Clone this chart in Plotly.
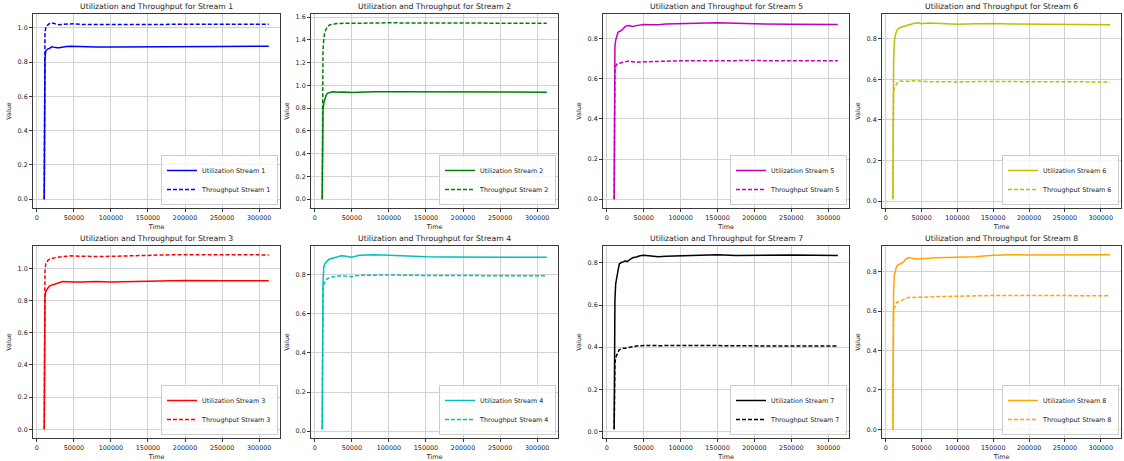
import plotly.graph_objects as go

# ---------------- data ----------------
TIME = [10000, 10500, 11000, 12000, 13000, 15000, 17000, 20000, 22500, 25000,
        27500, 30000, 32500, 35000, 40000, 45000, 50000, 60000, 70000, 80000,
        100000, 125000, 150000, 175000, 200000, 250000, 313000]

util_s1 = [0.00, 0.55, 0.82, 0.865, 0.87, 0.878, 0.88, 0.89, 0.888, 0.885, 0.884, 0.885, 0.887, 0.89,
           0.892, 0.893, 0.892, 0.889, 0.89, 0.889, 0.889, 0.89, 0.891, 0.89, 0.891, 0.892, 0.893]
thr_s1 = [0.00, 0.65, 0.96, 1.005, 1.012, 1.018, 1.025, 1.03, 1.027, 1.022, 1.02, 1.019, 1.02, 1.022,
          1.025, 1.026, 1.025, 1.02, 1.02, 1.019, 1.018, 1.019, 1.02, 1.02, 1.021, 1.021, 1.022]

util_s2 = [0.00, 0.50, 0.78, 0.84, 0.87, 0.91, 0.93, 0.94, 0.942, 0.943, 0.94, 0.941, 0.94, 0.942,
           0.943, 0.94, 0.938, 0.941, 0.942, 0.943, 0.943, 0.943, 0.942, 0.942, 0.941, 0.94, 0.94]
thr_s2 = [0.00, 0.85, 1.30, 1.40, 1.45, 1.49, 1.515, 1.53, 1.535, 1.537, 1.54, 1.542, 1.543, 1.545,
          1.548, 1.546, 1.545, 1.547, 1.548, 1.548, 1.549, 1.548, 1.547, 1.547, 1.546, 1.545, 1.545]

util_s3 = [0.00, 0.60, 0.82, 0.855, 0.865, 0.878, 0.89, 0.897, 0.9, 0.903, 0.908, 0.912, 0.916, 0.918,
           0.917, 0.915, 0.915, 0.915, 0.916, 0.918, 0.915, 0.918, 0.922, 0.924, 0.925, 0.924, 0.924]
thr_s3 = [0.00, 0.75, 0.98, 1.03, 1.04, 1.05, 1.057, 1.062, 1.065, 1.067, 1.069, 1.07, 1.073, 1.076,
          1.077, 1.078, 1.077, 1.075, 1.073, 1.074, 1.075, 1.079, 1.082, 1.084, 1.085, 1.085, 1.084]

util_s4 = [0.01, 0.55, 0.74, 0.835, 0.85, 0.86, 0.87, 0.878, 0.882, 0.885, 0.886, 0.888, 0.892, 0.895,
           0.894, 0.889, 0.887, 0.897, 0.898, 0.9, 0.897, 0.893, 0.89, 0.889, 0.889, 0.888, 0.887]
thr_s4 = [0.01, 0.50, 0.70, 0.75, 0.76, 0.77, 0.778, 0.785, 0.787, 0.788, 0.79, 0.791, 0.793, 0.793,
          0.791, 0.789, 0.788, 0.795, 0.796, 0.797, 0.797, 0.795, 0.794, 0.794, 0.794, 0.793, 0.793]

util_s5 = [0.00, 0.62, 0.76, 0.79, 0.80, 0.83, 0.835, 0.84, 0.85, 0.86, 0.864, 0.865, 0.862, 0.86,
           0.864, 0.868, 0.87, 0.869, 0.868, 0.872, 0.874, 0.876, 0.878, 0.876, 0.873, 0.871, 0.87]
thr_s5 = [0.00, 0.55, 0.63, 0.66, 0.67, 0.675, 0.677, 0.68, 0.684, 0.686, 0.688, 0.688, 0.685, 0.683,
          0.682, 0.683, 0.684, 0.685, 0.685, 0.687, 0.689, 0.69, 0.691, 0.69, 0.69, 0.689, 0.689]

util_s6 = [0.01, 0.52, 0.68, 0.78, 0.81, 0.835, 0.848, 0.855, 0.858, 0.86, 0.862, 0.866, 0.868, 0.872,
           0.876, 0.878, 0.874, 0.877, 0.875, 0.872, 0.871, 0.873, 0.875, 0.872, 0.871, 0.869, 0.869]
thr_s6 = [0.01, 0.50, 0.54, 0.555, 0.565, 0.576, 0.585, 0.591, 0.59, 0.589, 0.59, 0.59, 0.591, 0.592,
          0.592, 0.593, 0.589, 0.588, 0.588, 0.587, 0.587, 0.589, 0.59, 0.589, 0.588, 0.587, 0.587]

util_s7 = [0.01, 0.45, 0.62, 0.70, 0.73, 0.76, 0.795, 0.803, 0.805, 0.81, 0.806, 0.812, 0.82, 0.825,
           0.828, 0.834, 0.836, 0.832, 0.829, 0.832, 0.834, 0.835, 0.839, 0.835, 0.836, 0.838, 0.835]
thr_s7 = [0.01, 0.22, 0.32, 0.35, 0.36, 0.375, 0.388, 0.394, 0.395, 0.395, 0.397, 0.399, 0.401, 0.403,
          0.405, 0.407, 0.408, 0.408, 0.407, 0.408, 0.408, 0.408, 0.407, 0.407, 0.406, 0.405, 0.405]

util_s8 = [0.00, 0.55, 0.70, 0.78, 0.80, 0.825, 0.833, 0.838, 0.842, 0.85, 0.863, 0.868, 0.872, 0.87,
           0.866, 0.866, 0.866, 0.868, 0.871, 0.872, 0.875, 0.876, 0.883, 0.886, 0.885, 0.885, 0.886]
thr_s8 = [0.00, 0.50, 0.60, 0.615, 0.627, 0.642, 0.646, 0.651, 0.655, 0.66, 0.665, 0.668, 0.67, 0.669,
          0.669, 0.67, 0.67, 0.671, 0.673, 0.674, 0.675, 0.676, 0.679, 0.679, 0.679, 0.678, 0.678]

# panel order: row 1 -> streams 1, 2, 5, 6 ; row 2 -> streams 3, 4, 7, 8
panel_streams = [1, 2, 5, 6, 3, 4, 7, 8]
panel_colors = ["#0000ff", "#008000", "#bf00bf", "#bfbf00",
                "#ff0000", "#00bfbf", "#000000", "#ffa500"]
series = {1: (util_s1, thr_s1), 2: (util_s2, thr_s2), 3: (util_s3, thr_s3), 4: (util_s4, thr_s4),
          5: (util_s5, thr_s5), 6: (util_s6, thr_s6), 7: (util_s7, thr_s7), 8: (util_s8, thr_s8)}

# ---------------- layout ----------------
W, H = 1124, 461
col_px = [(33, 280), (311, 558), (603, 849), (882, 1121)]
row_px = [(14, 208), (246, 438)]
FONT = "DejaVu Sans"
TXT = "#1a1a1a"

fig = go.Figure()
layout = dict(width=W, height=H, margin=dict(l=0, r=0, t=0, b=0),
              paper_bgcolor="white", plot_bgcolor="white",
              font=dict(family=FONT, size=6.4, color=TXT), showlegend=True)
annotations = []

xmin, xmax = min(TIME), max(TIME)
xpad = 0.05 * (xmax - xmin)

for i, s in enumerate(panel_streams):
    r, c = divmod(i, 4)
    x0, x1 = col_px[c]
    y0, y1 = row_px[r]
    xd = [x0 / W, x1 / W]
    yd = [1 - y1 / H, 1 - y0 / H]
    k = "" if i == 0 else str(i + 1)
    util, thr = series[s]
    color = panel_colors[i]
    lg = "legend" + k
    fig.add_trace(go.Scatter(x=TIME, y=util, mode="lines", name=f"Utilization Stream {s}",
                             line=dict(color=color, width=1.5), xaxis="x" + k, yaxis="y" + k,
                             legend=lg))
    fig.add_trace(go.Scatter(x=TIME, y=thr, mode="lines", name=f"Throughput Stream {s}",
                             line=dict(color=color, width=1.5, dash="4px,2px"),
                             xaxis="x" + k, yaxis="y" + k, legend=lg))
    lo = min(min(util), min(thr))
    hi = max(max(util), max(thr))
    ypad = 0.05 * (hi - lo)
    axcommon = dict(showline=True, mirror=True, linecolor="#3a3a3a", linewidth=1,
                    showgrid=True, gridcolor="#d2d2d2", gridwidth=1, zeroline=False,
                    ticks="outside", ticklen=3, tickwidth=1, tickcolor="#3a3a3a",
                    tickfont=dict(size=6.4, color=TXT, family=FONT))
    layout["xaxis" + k] = dict(domain=xd, anchor="y" + k, range=[xmin - xpad, xmax + xpad],
                               dtick=50000, tick0=0, tickformat="d",
                               title=dict(text="Time", font=dict(size=6.4, color=TXT), standoff=3),
                               **axcommon)
    layout["yaxis" + k] = dict(domain=yd, anchor="x" + k, range=[lo - ypad, hi + ypad],
                               dtick=0.2, tick0=0, tickformat=".1f",
                               title=dict(text="Value", font=dict(size=6.4, color=TXT), standoff=5),
                               **axcommon)
    layout[lg] = dict(x=(x1 - 2) / W, y=1 - (y1 - 3) / H, xanchor="right", yanchor="bottom",
                      bgcolor="rgba(255,255,255,0.8)", bordercolor="#cccccc", borderwidth=1,
                      font=dict(size=6.4, color=TXT, family=FONT), itemwidth=30,
                      tracegroupgap=0)
    annotations.append(dict(text=f"Utilization and Throughput for Stream {s}",
                            x=(x0 + x1) / 2 / W, y=1 - y0 / H, xref="paper", yref="paper",
                            xanchor="center", yanchor="bottom", yshift=1, showarrow=False,
                            font=dict(size=7.7, color=TXT, family=FONT)))

layout["annotations"] = annotations
fig.update_layout(**layout)
fig.write_html("out.html")
